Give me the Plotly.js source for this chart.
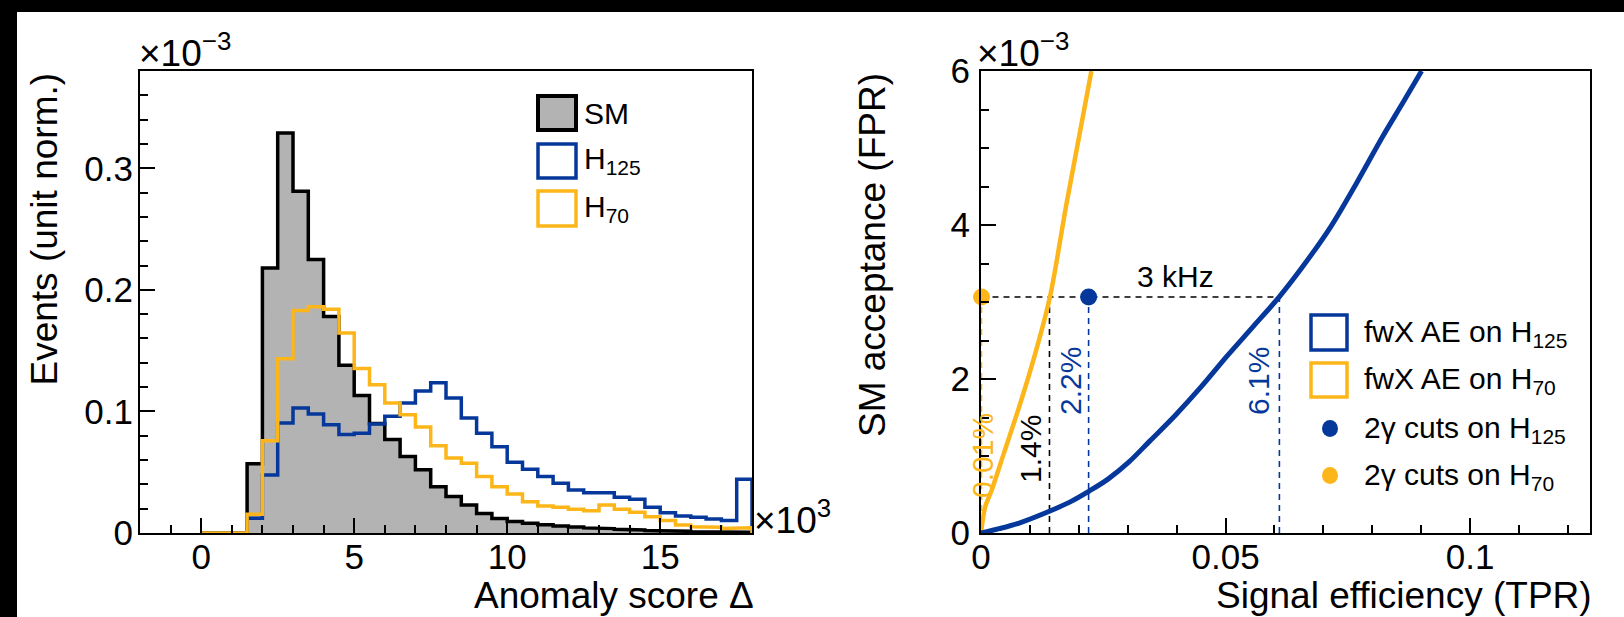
<!DOCTYPE html>
<html><head><meta charset="utf-8">
<script src="https://cdn.plot.ly/plotly-3.0.1.min.js"></script>
<style>
html,body{margin:0;padding:0;background:#000;width:1624px;height:617px;overflow:hidden}
#chart{position:absolute;left:17px;top:12px;width:1607px;height:605px;background:#fff}
</style>
</head><body><div id="chart"></div><script>
// ---------------- data ----------------
const binEdges = [0,0.5,1,1.5,2,2.5,3,3.5,4,4.5,5,5.5,6,6.5,7,7.5,8,8.5,9,9.5,10,10.5,11,11.5,12,12.5,13,13.5,14,14.5,15,15.5,16,16.5,17,17.5];
const histEnd = 18;
const smValues   = [0,0,0,0.057,0.218,0.329,0.281,0.225,0.178,0.138,0.113,0.090,0.077,0.063,0.052,0.038,0.030,0.023,0.016,0.012,0.0095,0.008,0.0068,0.0058,0.005,0.0042,0.0036,0.003,0.0025,0.002,0.0017,0.0014,0.0011,0.0009,0.0007,0.0006];
const h125Values = [0,0,0,0.0121,0.0478,0.0904,0.1028,0.0978,0.089,0.081,0.082,0.0896,0.096,0.107,0.1167,0.1236,0.111,0.0945,0.082,0.071,0.0582,0.0525,0.0464,0.041,0.0354,0.0332,0.0332,0.0294,0.0278,0.0212,0.0167,0.014,0.0129,0.0115,0.0102,0.0442];
const h70Values  = [0,0,0,0.0154,0.0758,0.1434,0.183,0.186,0.184,0.1646,0.1354,0.122,0.107,0.0973,0.0871,0.0717,0.0616,0.0574,0.0464,0.038,0.0321,0.0258,0.0223,0.0212,0.0195,0.0184,0.0231,0.0195,0.017,0.0134,0.0102,0.0066,0.0052,0.0047,0.0038,0.0044];

const rocH125TPR = [0,0.00371,0.00795,0.0141,0.01854,0.02204,0.02596,0.0302,0.03444,0.03974,0.04503,0.05033,0.05563,0.06093,0.06623,0.07152,0.07682,0.08212,0.08636,0.09007];
const rocH125FPR = [0,0.056,0.133,0.286,0.414,0.542,0.70,0.92,1.19,1.53,1.90,2.30,2.68,3.064,3.50,3.98,4.55,5.15,5.60,6.0];
const rocH70TPR  = [0,0.00085,0.0021,0.00477,0.00795,0.0111,0.0141,0.01748,0.02257];
const rocH70FPR  = [0,0.338,0.542,1.054,1.667,2.333,3.064,4.276,6.0];

const rateFPR = 3.064;              // 3 kHz working point
const cutH125TPR = 0.022;           // 2γ cuts on H125
const cutH70TPR  = 0.0001;          // 2γ cuts on H70
const aeH125TPR  = 0.061;           // fwX AE on H125 at 3 kHz
const aeH70TPR   = 0.014;           // fwX AE on H70 at 3 kHz

const histXTicks = [0,5,10,15];
const histYTicks = [0,0.1,0.2,0.3];
const rocXTicks = [0,0.05,0.1];
const rocXTickText = ['0','0.05','0.1'];
const rocYTicks = [0,2,4,6];

// ---------------- styling ----------------
const BLUE = '#06389b', ORANGE = '#fdb61a', GRAY = '#b3b3b3';
const FONT = 'Liberation Sans, Arial, Helvetica, sans-serif';
const W = 1607, H = 605, ML = 123, MR = 34, MT = 59, MB = 84;
const OX = 17, OY = 12;
const pw = W - ML - MR, ph = H - MT - MB;
const px = X => (X - OX - ML) / pw;
const py = Y => (H - MB - (Y - OY)) / ph;

function steps(vals){
  const x=[binEdges[0]], y=[0];
  for(let i=0;i<vals.length;i++){
    const lo=binEdges[i], hi=(i+1<binEdges.length)?binEdges[i+1]:histEnd;
    x.push(lo); y.push(vals[i]); x.push(hi); y.push(vals[i]);
  }
  x.push(histEnd); y.push(0);
  return {x,y};
}
const sm=steps(smValues), hb=steps(h125Values), ho=steps(h70Values);

const DASH = {width:1.6,dash:'6px,5px'};
const traces = [
  {x:sm.x,y:sm.y,type:'scatter',mode:'lines',fill:'tozeroy',fillcolor:GRAY,line:{color:'#000',width:3.5},xaxis:'x',yaxis:'y',showlegend:false},
  {x:hb.x,y:hb.y,type:'scatter',mode:'lines',line:{color:BLUE,width:3.5},xaxis:'x',yaxis:'y',showlegend:false},
  {x:ho.x,y:ho.y,type:'scatter',mode:'lines',line:{color:ORANGE,width:3.5},xaxis:'x',yaxis:'y',showlegend:false},
  // dashed guide lines
  {x:[cutH70TPR,aeH125TPR],y:[rateFPR,rateFPR],mode:'lines',line:Object.assign({color:'#000'},DASH),xaxis:'x2',yaxis:'y2',showlegend:false},
  {x:[cutH70TPR,cutH70TPR],y:[0,rateFPR],mode:'lines',line:Object.assign({color:ORANGE},DASH),xaxis:'x2',yaxis:'y2',showlegend:false},
  {x:[aeH70TPR,aeH70TPR],y:[0,rateFPR],mode:'lines',line:Object.assign({color:'#000'},DASH),xaxis:'x2',yaxis:'y2',showlegend:false},
  {x:[cutH125TPR,cutH125TPR],y:[0,rateFPR],mode:'lines',line:Object.assign({color:BLUE},DASH),xaxis:'x2',yaxis:'y2',showlegend:false},
  {x:[aeH125TPR,aeH125TPR],y:[0,rateFPR],mode:'lines',line:Object.assign({color:BLUE},DASH),xaxis:'x2',yaxis:'y2',showlegend:false},
  // ROC curves
  {x:rocH70TPR,y:rocH70FPR,mode:'lines',line:{color:ORANGE,width:4.5,shape:'spline',smoothing:0.8},xaxis:'x2',yaxis:'y2',showlegend:false},
  {x:rocH125TPR,y:rocH125FPR,mode:'lines',line:{color:BLUE,width:5,shape:'spline',smoothing:1},xaxis:'x2',yaxis:'y2',showlegend:false},
  // working points
  {x:[cutH125TPR],y:[rateFPR],mode:'markers',marker:{color:BLUE,size:17},xaxis:'x2',yaxis:'y2',showlegend:false,cliponaxis:false},
  {x:[cutH70TPR],y:[rateFPR],mode:'markers',marker:{color:ORANGE,size:17},xaxis:'x2',yaxis:'y2',showlegend:false,cliponaxis:false},
];

const axBase = {
  showgrid:false, zeroline:false, showline:true, linecolor:'#000', linewidth:2, mirror:true,
  ticks:'inside', ticklen:15, tickwidth:2, tickcolor:'#000',
  tickfont:{family:FONT,size:35,color:'#000'},
};
const layout = {
  width:W, height:H,
  margin:{l:ML,r:MR,t:MT,b:MB,pad:0},
  paper_bgcolor:'#fff', plot_bgcolor:'rgba(0,0,0,0)',
  showlegend:false,
  xaxis: Object.assign({}, axBase, {domain:[0,px(752)], range:[-2,18], tickmode:'array', tickvals:histXTicks, ticklabelstandoff:-8,
    minor:{dtick:1, tick0:0, ticks:'inside', ticklen:8, tickwidth:2, tickcolor:'#000'}}),
  yaxis: Object.assign({}, axBase, {domain:[0,1], range:[0,0.38], tickmode:'array', tickvals:histYTicks, ticklabelstandoff:-2,
    minor:{dtick:0.02, tick0:0, ticks:'inside', ticklen:8, tickwidth:2, tickcolor:'#000'}}),
  xaxis2: Object.assign({}, axBase, {domain:[px(981),1], range:[0,0.1245], anchor:'y2', tickmode:'array', tickvals:rocXTicks, ticktext:rocXTickText, ticklabelstandoff:-8,
    minor:{dtick:0.01, tick0:0, ticks:'inside', ticklen:8, tickwidth:2, tickcolor:'#000'}}),
  yaxis2: Object.assign({}, axBase, {domain:[0,1], range:[0,6], anchor:'x2', tickmode:'array', tickvals:rocYTicks, ticklabelstandoff:2,
    minor:{dtick:0.5, tick0:0, ticks:'inside', ticklen:8, tickwidth:2, tickcolor:'#000'}}),
  shapes:[
    // left legend boxes
    {type:'rect',xref:'paper',yref:'paper',x0:px(538),x1:px(576),y0:py(130),y1:py(96),fillcolor:GRAY,line:{color:'#000',width:4}},
    {type:'rect',xref:'paper',yref:'paper',x0:px(538),x1:px(576),y0:py(178),y1:py(144),fillcolor:'rgba(0,0,0,0)',line:{color:BLUE,width:3.5}},
    {type:'rect',xref:'paper',yref:'paper',x0:px(538),x1:px(576),y0:py(226),y1:py(191),fillcolor:'rgba(0,0,0,0)',line:{color:ORANGE,width:3.5}},
    // right legend boxes
    {type:'rect',xref:'paper',yref:'paper',x0:px(1311),x1:px(1347),y0:py(350),y1:py(315),fillcolor:'#fff',line:{color:BLUE,width:3.5}},
    {type:'rect',xref:'paper',yref:'paper',x0:px(1311),x1:px(1347),y0:py(397),y1:py(363),fillcolor:'#fff',line:{color:ORANGE,width:3.5}},
    {type:'circle',xref:'paper',yref:'paper',x0:px(1322),x1:px(1338),y0:py(437),y1:py(420),fillcolor:BLUE,line:{width:0}},
    {type:'circle',xref:'paper',yref:'paper',x0:px(1322),x1:px(1338),y0:py(484),y1:py(467),fillcolor:ORANGE,line:{width:0}},
  ],
  annotations:[]
};
const A = (X,Y,text,o) => layout.annotations.push(Object.assign({xref:'paper',yref:'paper',x:px(X),y:py(Y),text,showarrow:false,
  font:{family:FONT,size:30,color:'#000'},xanchor:'left',yanchor:'middle'},o||{}));

// multipliers
A(137,50,'×10<sup>−3</sup>',{font:{family:FONT,size:37,color:'#000'}});
A(975,50,'×10<sup>−3</sup>',{font:{family:FONT,size:37,color:'#000'}});
A(752,517,'×10<sup>3</sup>',{font:{family:FONT,size:37,color:'#000'}});
// axis titles
A(756,595,'Anomaly score Δ',{xanchor:'right',font:{family:FONT,size:37,color:'#000'}});
A(1594,595,'Signal efficiency (TPR)',{xanchor:'right',font:{family:FONT,size:37,color:'#000'}});
A(44,71,'Events (unit norm.)',{xanchor:'center',yanchor:'top',textangle:-90,font:{family:FONT,size:37,color:'#000'}});
A(872,71,'SM acceptance (FPR)',{xanchor:'center',yanchor:'top',textangle:-90,font:{family:FONT,size:37,color:'#000'}});
// left legend text
A(582,113,'SM');
A(582,161,'H<sub>125</sub>');
A(582,208,'H<sub>70</sub>');
// right legend text
A(1362,333,'fwX AE on H<sub>125</sub>');
A(1362,380,'fwX AE on H<sub>70</sub>');
A(1362,429,'2γ cuts on H<sub>125</sub>');
A(1362,476,'2γ cuts on H<sub>70</sub>');
// ROC annotations
A(1175,276,'3 kHz',{xanchor:'center'});
A(982,456,'0.01%',{xanchor:'center',textangle:-90,font:{family:FONT,size:30,color:ORANGE}});
A(1030,449,'1.4%',{xanchor:'center',textangle:-90,font:{family:FONT,size:30,color:'#000'}});
A(1070,381,'2.2%',{xanchor:'center',textangle:-90,font:{family:FONT,size:30,color:BLUE}});
A(1258,381,'6.1%',{xanchor:'center',textangle:-90,font:{family:FONT,size:30,color:BLUE}});

Plotly.newPlot('chart', traces, layout, {staticPlot:true, displayModeBar:false});
</script></body></html>
